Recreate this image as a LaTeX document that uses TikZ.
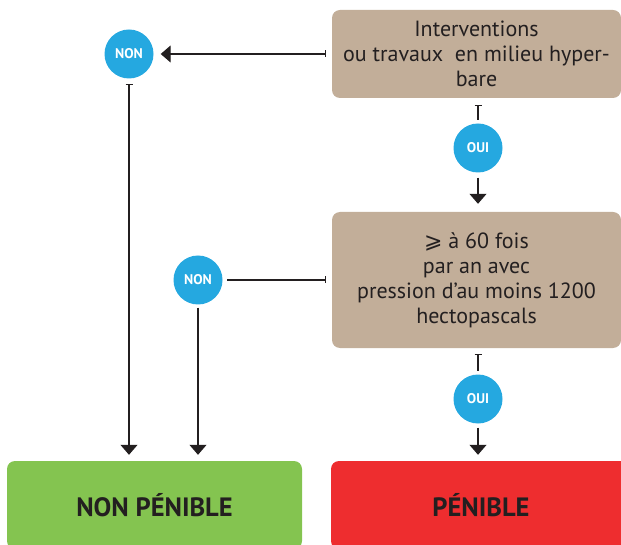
\documentclass[tikz,border=0pt]{standalone}
\usepackage{fontspec}
\setmainfont{PT Sans}
\newfontfamily\symfont{DejaVu Sans}
\usetikzlibrary{arrows.meta}
\definecolor{tanbox}{HTML}{C2AE99}
\definecolor{bluec}{HTML}{25A8E0}
\definecolor{greenbox}{HTML}{84C450}
\definecolor{redbox}{HTML}{EE2D2F}
\definecolor{inkc}{HTML}{231F20}
\tikzset{
  qbox/.style={fill=tanbox, rounded corners=8pt, minimum width=289pt, align=center,
    text=inkc, inner sep=0pt, font=\fontsize{22}{25}\selectfont},
  rbox/.style={rounded corners=8pt, minimum height=88pt, inner sep=0pt,
    text=inkc, font=\fontsize{26.5}{30}\selectfont\bfseries},
  ans/.style={circle, fill=bluec, minimum size=49pt, inner sep=0pt, text=white,
    font=\fontsize{14}{16}\selectfont\bfseries},
  conn/.style={draw=inkc, line width=1.2pt},
  tip/.style={-{Triangle[length=10pt,width=17pt]}},
  bartip/.style={{Bar[width=7pt,line width=1.2pt]}-},
  bartiptip/.style={{Bar[width=7pt,line width=1.2pt]}-{Triangle[length=10pt,width=17pt]}}
}
\begin{document}
\begin{tikzpicture}[x=1pt,y=-1pt]
\useasboundingbox (0,0) rectangle (621,545);
\node[qbox, minimum height=88pt] (box1) at (476.5,54) {Interventions\\ou travaux\ \ en milieu hyper-\\bare};
\node[qbox, minimum height=136pt] (box2) at (476.5,280) {{\symfont ⩾} à 60 fois\\par an avec\\pression d’au moins 1200\\hectopascals};
\node[ans] (non1) at (129,54) {NON};
\node[ans] (oui1) at (478,148) {OUI};
\node[ans] (non2) at (198,280) {NON};
\node[ans] (oui2) at (478,399) {OUI};
\node[rbox, fill=greenbox, minimum width=295pt] (green) at (154.5,505) {NON PÉNIBLE};
\node[rbox, fill=redbox, minimum width=300pt] (red) at (481,505) {PÉNIBLE};
% connectors
\draw[conn, bartiptip, shorten <=6pt, shorten >=7pt] (box1.west) -- (non1.east);
\draw[conn, bartip, shorten <=7pt, shorten >=3pt] (oui1 |- box1.south) -- (oui1.north);
\draw[conn, tip, shorten <=5pt, shorten >=8pt] (oui1.south) -- (oui1 |- box2.north);
\draw[conn, bartip, shorten <=6pt, shorten >=4pt] (box2.west) -- (non2.east);
\draw[conn, bartip, shorten <=6pt, shorten >=3pt] (oui2 |- box2.south) -- (oui2.north);
\draw[conn, tip, shorten <=4pt, shorten >=6pt] (oui2.south) -- (oui2 |- red.north);
\draw[conn, bartiptip, shorten <=5pt, shorten >=6pt] (non1.south) -- (non1 |- green.north);
\draw[conn, tip, shorten <=3pt, shorten >=6pt] (non2.south) -- (non2 |- green.north);
\end{tikzpicture}
\end{document}
